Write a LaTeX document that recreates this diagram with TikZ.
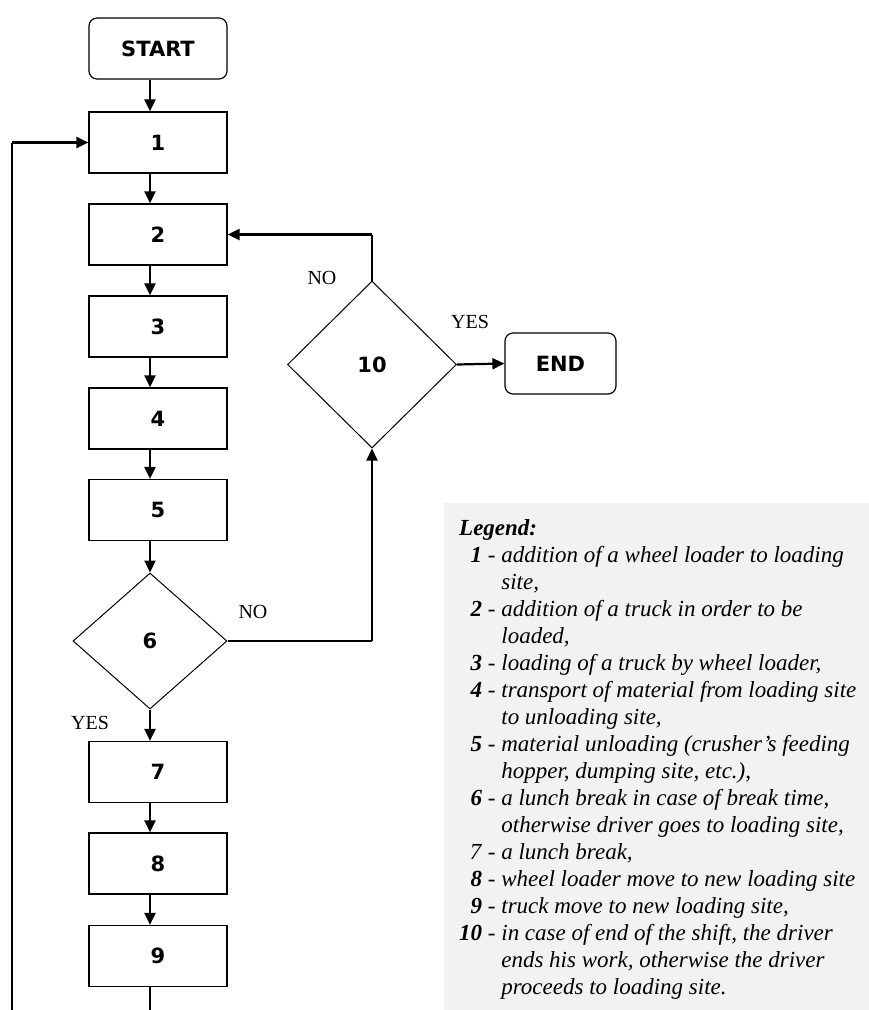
\documentclass[tikz,border=0pt]{standalone}
\usepackage{fontspec}
\setmainfont{Liberation Serif}
\newfontfamily\boxfont{DejaVu Sans}
\usepackage{tikz}
\usetikzlibrary{shapes.geometric, arrows.meta}
\definecolor{legendgray}{HTML}{F2F2F2}

\begin{document}
\begin{tikzpicture}[x=1pt,y=-1pt,
    box/.style={draw,line width=1.2pt,minimum width=138pt,minimum height=61pt,inner sep=0pt,font=\boxfont\bfseries\fontsize{21}{25}\selectfont},
    term/.style={box,rounded corners=8pt},
    decision/.style={draw,diamond,line width=1pt,inner sep=0pt,font=\boxfont\bfseries\fontsize{21}{25}\selectfont},
    arr/.style={line width=2.2pt,-{Triangle[length=12pt,width=11pt]}},
    thin line/.style={line width=1.1pt},
    lbl/.style={inner sep=0pt,font=\fontsize{20}{22}\selectfont}]
    \useasboundingbox (0,0) rectangle (869,1010);

    % legend background
    \fill[legendgray] (444,503) rectangle (869,1010);

    \node[term] (start) at (158,48.5) {START};
    \node[box] (b1) at (158,142.5) {1};
    \node[box] (b2) at (158,234.5) {2};
    \node[box] (b3) at (158,326.5) {3};
    \node[box] (b4) at (158,418.5) {4};
    \node[box] (b5) at (158,510) {5};
    \node[decision,minimum width=154pt,minimum height=136pt] (d6) at (150,641) {6};
    \node[box] (b7) at (158,772) {7};
    \node[box] (b8) at (158,863.5) {8};
    \node[box] (b9) at (158,956) {9};
    \node[decision,minimum width=169pt,minimum height=167pt] (d10) at (372,364.5) {10};
    \node[term,minimum width=111pt] (end) at (560.5,363.5) {END};

    \node[lbl] (no10) at (322,278) {NO};
    \node[lbl] (yes10) at (470,322) {YES};
    \node[lbl] (no6) at (253,612) {NO};
    \node[lbl] (yes6) at (90,723) {YES};

    \coordinate (c6) at (d10.south |- d6.east);
    \coordinate (c10) at (d10.north |- b2.east);
    \coordinate (loopb) at (d6.south |- 0,1010);
    \coordinate (loopl) at (12,1010);
    \coordinate (loopt) at (12,142.5);

    % main column
    \draw[arr] (start.south -| d6.north) -- (b1.north -| d6.north);
    \draw[arr] (b1.south -| d6.north) -- (b2.north -| d6.north);
    \draw[arr] (b2.south -| d6.north) -- (b3.north -| d6.north);
    \draw[arr] (b3.south -| d6.north) -- (b4.north -| d6.north);
    \draw[arr] (b4.south -| d6.north) -- (b5.north -| d6.north);
    \draw[arr] (b5.south -| d6.north) -- (d6.north);
    \draw[arr] (d6.south) -- (b7.north -| d6.south);
    \draw[arr] (b7.south -| d6.south) -- (b8.north -| d6.south);
    \draw[arr] (b8.south -| d6.south) -- (b9.north -| d6.south);

    % branches
    \draw[thin line] (d6.east) -- (c6);
    \draw[arr] (c6) -- (d10.south);
    \draw[thin line] (d10.north) -- (c10);
    \draw[arr] (c10) -- (b2.east);
    \draw[arr] (d10.east) -- (end.west);

    % loop back to 1
    \draw[thin line] (b9.south -| d6.south) -- (loopb);
    \draw[thin line] (loopl) -- (loopt);
    \draw[arr] (loopt) -- (b1.west);

    \node[anchor=base west,inner sep=0pt,font=\fontsize{23}{27}\selectfont] (legend) at (459,535) {%
      \begin{tabular}[t]{@{}r@{\ -\ }l@{}}
        \multicolumn{2}{@{}l}{\textbf{\textit{Legend:}}}\\
        \textbf{\textit{1}} & \textit{addition of a wheel loader to loading}\\
        \multicolumn{1}{r}{} & \textit{site,}\\
        \textbf{\textit{2}} & \textit{addition of a truck in order to be}\\
        \multicolumn{1}{r}{} & \textit{loaded,}\\
        \textbf{\textit{3}} & \textit{loading of a truck by wheel loader,}\\
        \textbf{\textit{4}} & \textit{transport of material from loading site}\\
        \multicolumn{1}{r}{} & \textit{to unloading site,}\\
        \textbf{\textit{5}} & \textit{material unloading (crusher's feeding}\\
        \multicolumn{1}{r}{} & \textit{hopper, dumping site, etc.),}\\
        \textbf{\textit{6}} & \textit{a lunch break in case of break time,}\\
        \multicolumn{1}{r}{} & \textit{otherwise driver goes to loading site,}\\
        \textit{7} & \textit{a lunch break,}\\
        \textbf{\textit{8}} & \textit{wheel loader move to new loading site}\\
        \textbf{\textit{9}} & \textit{truck move to new loading site,}\\
        \textbf{\textit{10}} & \textit{in case of end of the shift, the driver}\\
        \multicolumn{1}{r}{} & \textit{ends his work, otherwise the driver}\\
        \multicolumn{1}{r}{} & \textit{proceeds to loading site.}
      \end{tabular}};
\end{tikzpicture}
\end{document}
